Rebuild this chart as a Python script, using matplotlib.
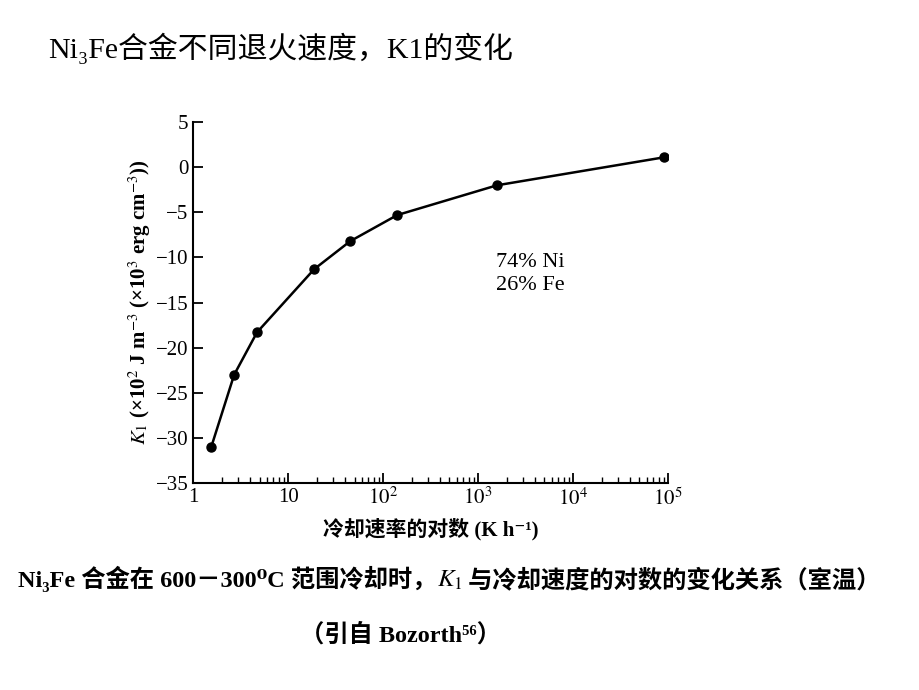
import matplotlib
matplotlib.use("Agg")
import matplotlib.pyplot as plt
from matplotlib.ticker import FixedLocator, FixedFormatter, LogLocator, NullFormatter

plt.rcParams['font.family'] = ['Liberation Serif', 'Noto Sans CJK SC', 'DejaVu Serif']
plt.rcParams['mathtext.fontset'] = 'stix'

# cooling rate (K/h) vs K1 (x10^2 J m^-3)
cooling_rate = [1.55, 2.7, 4.7, 18.8, 45, 141, 1585, 91000]
k1_values = [-31.0, -23.0, -18.3, -11.3, -8.2, -5.3, -2.0, 1.1]

x_ticks = [1, 10, 1e2, 1e3, 1e4, 1e5]
x_tick_labels = ['1', '10', '$10^2$', '$10^3$', '$10^4$', '$10^5$']
y_ticks = [5, 0, -5, -10, -15, -20, -25, -30, -35]

fig = plt.figure(figsize=(9.2, 6.9), dpi=100)
ax = fig.add_axes([0.21, 0.30, 0.516, 0.523])

ax.plot(cooling_rate, k1_values, color='black', lw=1.8, marker='o', ms=6.5)
ax.set_xscale('log')
ax.set_xlim(1, 1e5)
ax.set_ylim(-35, 5)

ax.xaxis.set_major_locator(FixedLocator(x_ticks))
ax.xaxis.set_major_formatter(FixedFormatter(x_tick_labels))
ax.xaxis.set_minor_locator(LogLocator(base=10, subs=range(2, 10)))
ax.xaxis.set_minor_formatter(NullFormatter())
ax.set_yticks(y_ticks)

ax.spines['top'].set_visible(False)
ax.spines['right'].set_visible(False)
for s in ['left', 'bottom']:
    ax.spines[s].set_linewidth(1.5)
ax.tick_params(which='major', direction='in', length=7, width=1.3, labelsize=15)
ax.tick_params(which='minor', direction='in', length=4, width=1.0)

ax.set_ylabel(r'$K_1$ (×10$^2$ J m$^{-3}$ (×10$^3$ erg cm$^{-3}$))',
              fontsize=15, fontweight='bold', labelpad=2)
ax.set_xlabel('冷却速率的对数 (K h⁻¹)', fontsize=15, fontweight='bold', labelpad=6)

ax.text(0.638, 0.612, '74% Ni', transform=ax.transAxes, fontsize=16, va='center')
ax.text(0.638, 0.548, '26% Fe', transform=ax.transAxes, fontsize=16, va='center')

fig.text(0.052, 0.93, 'Ni₃Fe合金不同退火速度，K1的变化', fontsize=21.5, va='center')

# caption, drawn in pieces so the italic K1 can sit between the Chinese text
cap1 = fig.text(0.02, 0.142, 'Ni₃Fe 合金在 600－300⁰C 范围冷却时，', fontsize=17.5,
                fontweight='bold', va='bottom')
cap2 = fig.add_artist(
    plt.Annotation(r'$K_1$', xy=(1, 0), xycoords=cap1, va='bottom', ha='left',
                   fontsize=18))
fig.add_artist(
    plt.Annotation(' 与冷却速度的对数的变化关系（室温）', xy=(1, 0), xycoords=cap2,
                   va='bottom', ha='left', fontsize=17.5, fontweight='bold'))
fig.text(0.435, 0.08, '（引自 Bozorth⁵⁶）', fontsize=17.5, fontweight='bold',
         va='center', ha='center')

plt.savefig('out.png', dpi=100)
